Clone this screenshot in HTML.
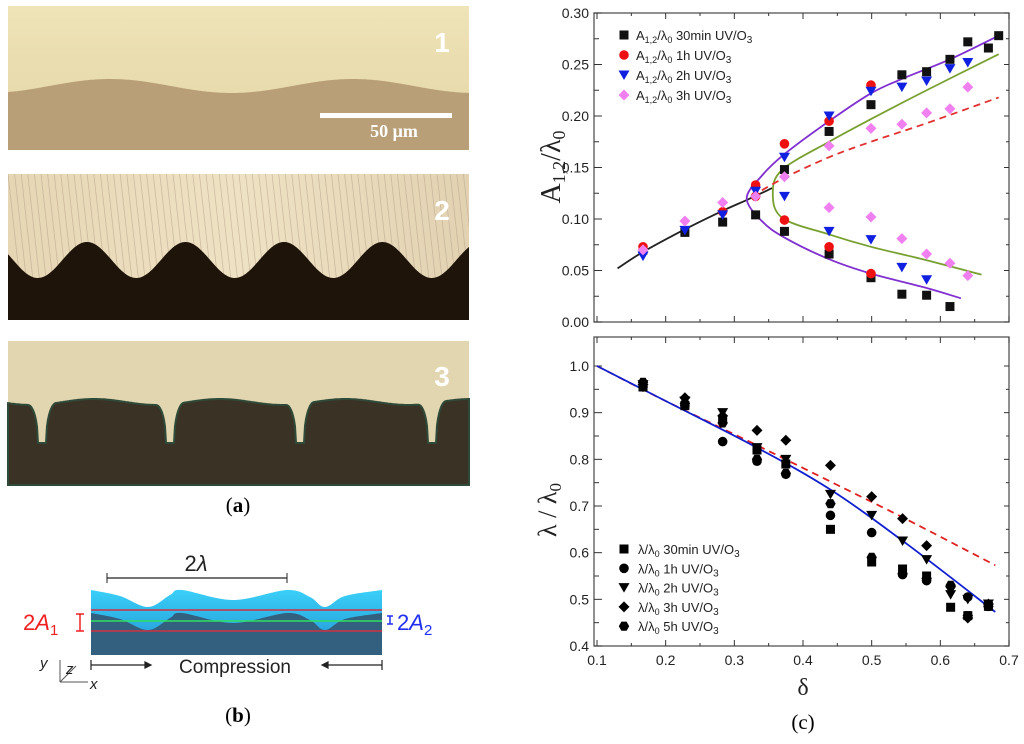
<!DOCTYPE html>
<html><head><meta charset="utf-8"><style>
html,body{margin:0;padding:0;background:#fff;}
svg{display:block;font-family:"Liberation Sans",sans-serif;}
</style></head><body>
<svg id="fig" width="1024" height="744" viewBox="0 0 1024 744" xmlns="http://www.w3.org/2000/svg">
<defs>
<linearGradient id="g1" x1="0" y1="0" x2="0" y2="1"><stop offset="0" stop-color="#eee4b8"/><stop offset="1" stop-color="#e4d4a4"/></linearGradient>
<linearGradient id="g2" x1="0" y1="0" x2="1" y2="0"><stop offset="0" stop-color="#e6d6b4"/><stop offset="0.5" stop-color="#efe2c4"/><stop offset="1" stop-color="#e2d2b2"/></linearGradient>
<linearGradient id="gw" x1="0" y1="0" x2="0" y2="1"><stop offset="0" stop-color="#3ad0f8"/><stop offset="1" stop-color="#2aa8e0"/></linearGradient>
<clipPath id="c2"><rect x="8" y="174" width="461" height="146"/></clipPath>
<clipPath id="cb"><rect x="91" y="580" width="291" height="75"/></clipPath>
</defs>
<!-- panel a photos -->
<g>
<rect x="8" y="6" width="461" height="144" fill="url(#g1)"/>
<path id="p1" fill="#b89f78"/>
<rect x="320" y="113" width="132" height="5" fill="#fff"/>
<text x="394" y="137" font-family="Liberation Serif,serif" font-weight="bold" font-size="18" fill="#fff" text-anchor="middle">50 μm</text>
<text x="442" y="52" font-weight="bold" font-size="28" fill="#fff" text-anchor="middle">1</text>
</g>
<g>
<rect x="8" y="174" width="461" height="146" fill="url(#g2)"/>
<g id="stri" stroke="#b8a48c" stroke-width="0.8" opacity="0.6" clip-path="url(#c2)"></g>
<path id="p2" fill="#1e140a"/>
<text x="442" y="220" font-weight="bold" font-size="28" fill="#fff" text-anchor="middle">2</text>
</g>
<g>
<rect x="8" y="341" width="461" height="144" fill="#e2d6b0"/>
<path id="p3" fill="#3a3224" stroke="#2f4a38" stroke-width="2"/>
<text x="442" y="386" font-weight="bold" font-size="28" fill="#fff" text-anchor="middle">3</text>
</g>
<text x="238" y="512" font-family="Liberation Serif,serif" font-size="21" text-anchor="middle">(<tspan font-weight="bold">a</tspan>)</text>
<!-- panel b diagram -->
<g>
<rect x="91" y="609" width="291" height="46" fill="#33607f"/>
<path id="wave" fill="url(#gw)" clip-path="url(#cb)"/>
<line x1="91" y1="610" x2="382" y2="610" stroke="#d03040" stroke-width="1.5"/>
<line x1="91" y1="621" x2="382" y2="621" stroke="#30e060" stroke-width="1.5"/>
<line x1="91" y1="631" x2="382" y2="631" stroke="#d03040" stroke-width="1.5"/>
<line x1="107" y1="578" x2="287" y2="578" stroke="#222" stroke-width="1.2"/>
<line x1="107" y1="573" x2="107" y2="583" stroke="#222"/><line x1="287" y1="573" x2="287" y2="583" stroke="#222"/>
<text x="196" y="571" font-size="22" text-anchor="middle" fill="#222">2<tspan font-style="italic">λ</tspan></text>
<text x="23" y="630" font-size="22" fill="#f02020">2<tspan font-style="italic">A</tspan><tspan font-size="15" dy="5">1</tspan></text>
<path d="M76 614h8M80 614v17M76 631h8" stroke="#f02020" stroke-width="1.5" fill="none"/>
<path d="M387 616h6M390 616v8M387 624h6" stroke="#2030f0" stroke-width="1.5" fill="none"/>
<text x="397" y="630" font-size="22" fill="#2030f0">2<tspan font-style="italic">A</tspan><tspan font-size="15" dy="5">2</tspan></text>
<path d="M91 665h60M151 665l-6-3v6z M382 665h-60M322 665l6-3v6z M91 660v10M382 660v10" stroke="#222" stroke-width="1.2" fill="#222"/>
<text x="235" y="673" font-size="19" text-anchor="middle" fill="#222">Compression</text>
<path d="M60 682v-22M60 682h28M60 682l16-16" stroke="#555" stroke-width="1" fill="none"/>
<text x="40" y="668" font-size="15" font-style="italic" fill="#222">y</text>
<text x="66" y="674" font-size="15" font-style="italic" fill="#222">z</text>
<text x="90" y="689" font-size="15" font-style="italic" fill="#222">x</text>
</g>
<text x="238" y="722" font-family="Liberation Serif,serif" font-size="21" text-anchor="middle">(<tspan font-weight="bold">b</tspan>)</text>
<g id="charts"></g>
<text x="803" y="729" font-family="Liberation Serif,serif" font-size="21" text-anchor="middle">(c)</text>
</svg>
<script>
// ---- top chart data ----
const sqX=[0.167,0.228,0.283,0.331,0.373,0.373,0.438,0.438,0.499,0.499,0.544,0.544,0.58,0.58,0.614,0.614,0.64,0.67,0.685];
const sqY=[0.070,0.087,0.097,0.104,0.148,0.088,0.185,0.066,0.211,0.043,0.240,0.027,0.243,0.026,0.255,0.015,0.272,0.266,0.278];
const rcX=[0.167,0.283,0.331,0.331,0.373,0.373,0.438,0.438,0.499,0.499];
const rcY=[0.073,0.107,0.133,0.122,0.173,0.099,0.195,0.073,0.230,0.047];
const btX=[0.167,0.228,0.283,0.331,0.373,0.373,0.438,0.438,0.499,0.499,0.544,0.544,0.58,0.58,0.614,0.64];
const btY=[0.064,0.089,0.104,0.127,0.160,0.122,0.200,0.088,0.224,0.080,0.228,0.053,0.234,0.041,0.246,0.252];
const pdX=[0.167,0.228,0.283,0.331,0.373,0.438,0.438,0.499,0.499,0.544,0.544,0.58,0.58,0.614,0.614,0.64,0.64];
const pdY=[0.070,0.098,0.116,0.122,0.141,0.171,0.111,0.188,0.102,0.192,0.081,0.203,0.066,0.207,0.057,0.228,0.045];
const blkFitX=[0.13,0.167,0.228,0.283,0.32,0.355];
const blkFitY=[0.052,0.068,0.090,0.108,0.119,0.130];
const purFitX=[0.63,0.58,0.499,0.438,0.373,0.34,0.318,0.34,0.373,0.438,0.499,0.544,0.614,0.685];
const purFitY=[0.023,0.033,0.047,0.061,0.082,0.098,0.120,0.142,0.163,0.195,0.222,0.236,0.255,0.278];
const grnFitX=[0.66,0.58,0.499,0.438,0.37,0.356,0.37,0.438,0.499,0.58,0.685];
const grnFitY=[0.046,0.060,0.073,0.085,0.101,0.125,0.148,0.175,0.197,0.225,0.260];
const redFitX=[0.325,0.373,0.438,0.499,0.58,0.685];
const redFitY=[0.122,0.140,0.160,0.175,0.193,0.218];
const topTicks=[0.00,0.05,0.10,0.15,0.20,0.25,0.30];
// ---- bottom chart data ----
const dX=[0.167,0.228,0.283,0.333,0.375,0.44,0.5,0.545,0.58,0.615,0.64,0.67];
const w30=[0.955,0.915,0.885,0.82,0.79,0.65,0.58,0.565,0.55,0.483,0.465,0.485];
const w1h=[0.955,0.915,0.838,0.796,0.768,0.68,0.643,0.553,0.54,0.528,0.505,0.485];
const w2h=[0.96,0.925,0.90,0.825,0.80,0.725,0.68,0.625,0.585,0.51,0.50,0.49];
const w3h=[0.96,0.932,0.893,0.862,0.841,0.787,0.72,0.673,0.615,0.527,0.46,0.49];
const w5h=[0.965,0.92,0.878,0.80,0.77,0.705,0.59,0.555,0.545,0.53,0.465,0.485];
const blueX=[0.1,0.2,0.333,0.44,0.55,0.68];
const blueY=[1.0,0.925,0.825,0.735,0.62,0.473];
const dashX=[0.1,0.2,0.333,0.45,0.55,0.68];
const dashY=[1.0,0.925,0.83,0.745,0.672,0.573];
const botTicks=[0.4,0.5,0.6,0.7,0.8,0.9,1.0];
const xTicks=[0.1,0.2,0.3,0.4,0.5,0.6,0.7];

const NS='http://www.w3.org/2000/svg';
const root=document.getElementById('charts');
function mk(tag,attrs,parent){const e=document.createElementNS(NS,tag);for(const k in attrs)e.setAttribute(k,attrs[k]);(parent||root).appendChild(e);return e;}
const X0=597,X1=1009;
const sx=v=>X0+(v-0.1)/0.6*(X1-X0);
const syT=v=>322-v/0.30*309;
const syB=v=>646-(v-0.4)/0.6*280;
function cr(pts){let d='M'+pts[0][0]+' '+pts[0][1];for(let i=0;i<pts.length-1;i++){const p0=pts[i-1]||pts[i],p1=pts[i],p2=pts[i+1],p3=pts[i+2]||p2;d+=' C'+(p1[0]+(p2[0]-p0[0])/6)+' '+(p1[1]+(p2[1]-p0[1])/6)+','+(p2[0]-(p3[0]-p1[0])/6)+' '+(p2[1]-(p3[1]-p1[1])/6)+','+p2[0]+' '+p2[1];}return d;}
function marker(type,x,y,color,g){
  let e;
  if(type==='sq')e=mk('rect',{x:x-4.5,y:y-4.5,width:9,height:9,fill:color},g);
  else if(type==='ci')e=mk('circle',{cx:x,cy:y,r:4.8,fill:color},g);
  else if(type==='tri')e=mk('path',{d:`M${x-5.5} ${y-4.5}h11l-5.5 9.5z`,fill:color},g);
  else if(type==='dia')e=mk('path',{d:`M${x} ${y-5.5}l5.5 5.5l-5.5 5.5l-5.5-5.5z`,fill:color},g);
  else if(type==='hex')e=mk('path',{d:`M${x-2.6} ${y-4.6}h5.2l2.6 4.6l-2.6 4.6h-5.2l-2.6-4.6z`,fill:color},g);
  return e;
}
function axes(top,bottom,sy,ticks,fmt,name){
  const g=mk('g',{});
  
  
  mk('rect',{x:X0-3,y:top,width:X1-X0+3,height:bottom-top,fill:'none',stroke:'#555','stroke-width':1.3},g);
  ticks.forEach((t,i)=>{const y=sy(t);
    mk('line',{x1:X0-3,y1:y,x2:X0+5,y2:y,stroke:'#333'},g);mk('line',{x1:X1-5,y1:y,x2:X1,y2:y,stroke:'#333'},g);
    if(i<ticks.length-1){const ym=(y+sy(ticks[i+1]))/2;mk('line',{x1:X0-3,y1:ym,x2:X0+2,y2:ym,stroke:'#333'},g);mk('line',{x1:X1-3,y1:ym,x2:X1,y2:ym,stroke:'#333'},g);}
    const tx=mk('text',{x:X0-8,y:y+5,'font-size':14,'text-anchor':'end',fill:'#222'},g);tx.textContent=fmt(t);});
  xTicks.forEach((t,i)=>{const x=sx(t);
    mk('line',{x1:x,y1:bottom,x2:x,y2:bottom-6,stroke:'#333'},g);mk('line',{x1:x,y1:top,x2:x,y2:top+6,stroke:'#333'},g);
    if(i<xTicks.length-1){const xm=(x+sx(xTicks[i+1]))/2;mk('line',{x1:xm,y1:bottom,x2:xm,y2:bottom-3,stroke:'#333'},g);mk('line',{x1:xm,y1:top,x2:xm,y2:top+3,stroke:'#333'},g);}});
  return g;
}
// top chart
const gt=axes(13,322,syT,topTicks,t=>t.toFixed(2),'amplitude-chart');
const lbl=mk('text',{x:560,y:167,'font-family':'Liberation Serif,serif','font-size':28,'text-anchor':'middle',transform:'rotate(-90 560 167)',fill:'#222'},gt);


lbl.innerHTML='A<tspan font-size="18" dy="5">1,2</tspan><tspan dy="-5">/λ</tspan><tspan font-size="18" dy="5">0</tspan>';
function fit(xs,ys,sy,color,dash,name,g){const p=mk('path',{d:cr(xs.map((x,i)=>[sx(x),sy(ys[i])])),fill:'none',stroke:color,'stroke-width':1.8,'stroke-dasharray':dash||'none'},g);}
fit(blkFitX,blkFitY,syT,'#222','', 'fit-prebifurcation',gt);
fit(purFitX,purFitY,syT,'#8030d0','', 'fit-bifurcation-purple',gt);
fit(grnFitX,grnFitY,syT,'#78a030','', 'fit-bifurcation-green',gt);
fit(redFitX,redFitY,syT,'#e03030','7,5','fit-dashed-red',gt);
function series(xs,ys,sy,type,color,name,g){const s=mk('g',{},g);xs.forEach((x,i)=>{const m=marker(type,sx(x),sy(ys[i]),color,s);});}
series(sqX,sqY,syT,'sq','#111','series-30min',gt);
series(rcX,rcY,syT,'ci','#ee1111','series-1h',gt);
series(btX,btY,syT,'tri','#1020e0','series-2h',gt);
series(pdX,pdY,syT,'dia','#f080f0','series-3h',gt);
const legT=[['sq','#111','30min'],['ci','#ee1111','1h'],['tri','#1020e0','2h'],['dia','#f080f0','3h']];
legT.forEach((l,i)=>{const y=35+i*20;const lg=mk('g',{},gt);
  marker(l[0],624,y,l[1],lg);const t=mk('text',{x:636,y:y+5,'font-size':13,fill:'#222'},lg);
  t.innerHTML='A<tspan font-size="9" dy="3">1,2</tspan><tspan dy="-3">/λ</tspan><tspan font-size="9" dy="3">0</tspan><tspan dy="-3"> '+l[2]+' UV/O</tspan><tspan font-size="10" dy="3">3</tspan>';});
// bottom chart
const gb=axes(337,646,syB,botTicks,t=>t.toFixed(1),'wavelength-chart');
const lb2=mk('text',{x:556,y:510,'font-family':'Liberation Serif,serif','font-size':26,'text-anchor':'middle',transform:'rotate(-90 556 510)',fill:'#222'},gb);


lb2.innerHTML='λ / λ<tspan font-size="17" dy="5">0</tspan>';
xTicks.forEach(t=>{const tx=mk('text',{x:sx(t),y:665,'font-size':14,'text-anchor':'middle',fill:'#222'},gb);tx.textContent=t.toFixed(1);});
const xl=mk('text',{x:803,y:695,'font-family':'Liberation Serif,serif','font-size':24,'text-anchor':'middle',fill:'#222'},gb);


xl.textContent='δ';
fit(dashX,dashY,syB,'#e02020','7,5','fit-dashed-linear',gb);
fit(blueX,blueY,syB,'#1020d0','','fit-blue',gb);
series(dX,w30,syB,'sq','#000','wl-30min',gb);
series(dX,w1h,syB,'ci','#000','wl-1h',gb);
series(dX,w2h,syB,'tri','#000','wl-2h',gb);
series(dX,w3h,syB,'dia','#000','wl-3h',gb);
series(dX,w5h,syB,'hex','#000','wl-5h',gb);
const legB=[['sq','30min'],['ci','1h'],['tri','2h'],['dia','3h'],['hex','5h']];
legB.forEach((l,i)=>{const y=549+i*19.3;const lg=mk('g',{},gb);
  marker(l[0],624,y,'#000',lg);const t=mk('text',{x:638,y:y+5,'font-size':13,fill:'#222'},lg);
  t.innerHTML='λ/λ<tspan font-size="9" dy="3">0</tspan><tspan dy="-3"> '+l[1]+' UV/O</tspan><tspan font-size="10" dy="3">3</tspan>';});

// photo shapes
function wavePath(x0,x1,fy,bottom){let d='M'+x0+' '+bottom;for(let x=x0;x<=x1;x+=1)d+=' L'+x+' '+fy(x).toFixed(1);return d+' L'+x1+' '+bottom+'Z';}
document.getElementById('p1').setAttribute('d',wavePath(8,469,x=>86-7*Math.cos(2*Math.PI*(x-110)/243),150));
document.getElementById('p2').setAttribute('d',wavePath(8,469,x=>260-18*Math.cos(2*Math.PI*(x-87)/98.5),320));
const gaps=[42,170,300,432];
document.getElementById('p3').setAttribute('d',wavePath(8,469,x=>{let d=Math.min(...gaps.map(g=>Math.abs(x-g)));const top=402+3*Math.sin(x/20);if(d<4)return 443;if(d<14){const u=(14-d)/10;return 443-(443-top)*Math.sqrt(Math.max(0,1-u*u));}return top;},485));
const st=document.getElementById('stri');
for(let i=0;i<70;i++){const x=8+i*6.6;mk('line',{x1:x,y1:174,x2:x+14,y2:300},st);}
const wtop=[[91,590],[120,596],[148,607],[170,595],[182,590],[233,600],[287,590],[310,597],[325,607],[345,596],[382,590]];
const wbot=wtop.slice().reverse().map(p=>[p[0],p[1]+23]);
document.getElementById('wave').setAttribute('d',cr(wtop)+' L382 613 '+cr(wbot).replace(/^M/,'L')+' Z');
</script>
</body></html>
